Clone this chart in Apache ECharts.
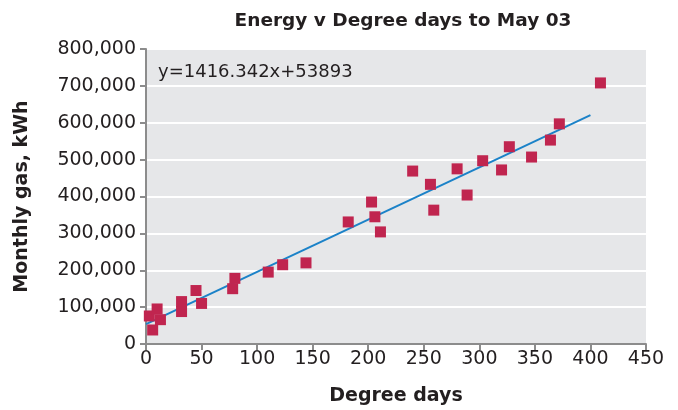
<!DOCTYPE html>
<html><head><meta charset="utf-8">
<script src="https://cdn.jsdelivr.net/npm/echarts@6/dist/echarts.min.js"></script>
<style>html,body{margin:0;padding:0;background:#fff}#c{width:678px;height:410px}</style>
</head><body><div id="c"></div>
<script>
var degreeDays = [3, 6, 10, 13, 32, 32, 45, 50, 78, 80, 110, 123, 144, 182, 203, 206, 211, 240, 256, 259, 280, 289, 303, 320, 327, 347, 364, 372, 409];
var monthlyGas = [76000, 38000, 95000, 66000, 115000, 88000, 145000, 110000, 150000, 178000, 195000, 215000, 220000, 331000, 385000, 345000, 304000, 469000, 433000, 363000, 475000, 404000, 497000, 472000, 535000, 507000, 553000, 597000, 708000];
var trendSlope = 1416.342;
var trendIntercept = 53893;
var trendX = [0, 400];
var equationLabel = 'y=1416.342x+53893';
var titleText = 'Energy v Degree days to May 03';
var xName = 'Degree days';
var yName = 'Monthly gas, kWh';

var FONT = 'DejaVu Sans';
var pts = degreeDays.map(function (d, i) { return [d, monthlyGas[i]]; });
var trend = trendX.map(function (x) { return [x, trendSlope * x + trendIntercept]; });

var chart = echarts.init(document.getElementById('c'));
chart.setOption({
  backgroundColor: '#fff',
  animation: false,
  title: {
    text: titleText, left: 398, top: 7, textAlign: 'center',
    textStyle: { fontFamily: FONT, fontSize: 18.5, fontWeight: 'bold', color: '#231f20' }
  },
  grid: { left: 146, right: 32, top: 49, bottom: 66, show: true, backgroundColor: '#e6e7e9', borderWidth: 0,
          containLabel: false, outerBoundsMode: 'none' },
  xAxis: {
    type: 'value', min: 0, max: 450, interval: 50,
    name: xName, nameLocation: 'middle', nameGap: 43,
    nameTextStyle: { fontFamily: FONT, fontSize: 19, fontWeight: 'bold', color: '#231f20' },
    axisLine: { show: true, lineStyle: { color: '#8c8c8c', width: 2 } },
    axisTick: { show: true, length: 6, lineStyle: { color: '#8c8c8c', width: 2 } },
    axisLabel: { fontFamily: FONT, fontSize: 19, color: '#231f20', margin: 6 },
    splitLine: { show: false }
  },
  yAxis: {
    type: 'value', min: 0, max: 800000, interval: 100000,
    name: yName, nameLocation: 'middle', nameGap: 114, nameRotate: 90,
    nameTextStyle: { fontFamily: FONT, fontSize: 19, fontWeight: 'bold', color: '#231f20' },
    axisLine: { show: true, lineStyle: { color: '#8c8c8c', width: 2 } },
    axisTick: { show: true, length: 6, lineStyle: { color: '#8c8c8c', width: 2 } },
    axisLabel: {
      fontFamily: FONT, fontSize: 19, color: '#231f20', margin: 10,
      formatter: function (v) { return v.toLocaleString('en-US'); }
    },
    splitLine: { show: true, lineStyle: { color: '#ffffff', width: 2 } }
  },
  graphic: [{
    type: 'text', left: 158, top: 63,
    style: { text: equationLabel, fontFamily: FONT, fontSize: 18, fill: '#231f20' }
  }],
  series: [
    {
      type: 'line', data: trend, symbol: 'none', z: 2,
      lineStyle: { color: '#1b82c8', width: 2 }
    },
    {
      type: 'scatter', data: pts, symbol: 'rect', symbolSize: 11, z: 3,
      itemStyle: { color: '#c0254f', opacity: 1 }
    }
  ]
});
</script>
</body></html>
